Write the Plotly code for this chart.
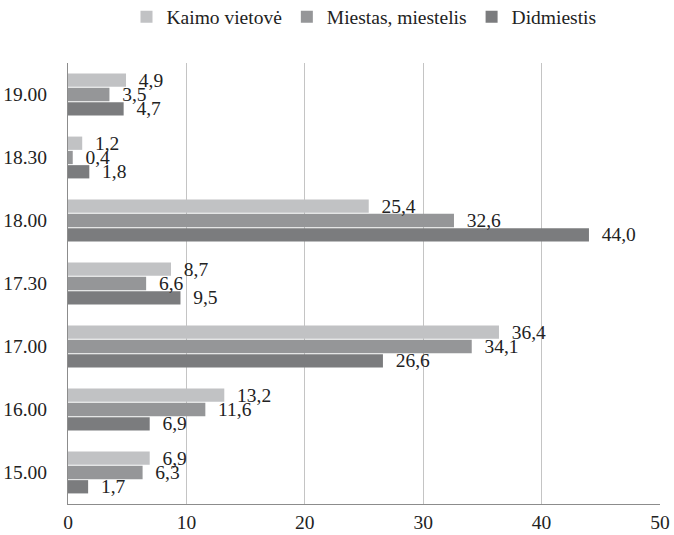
import plotly.graph_objects as go

categories = ["15.00", "16.00", "17.00", "17.30", "18.00", "18.30", "19.00"]
kaimo = [6.9, 13.2, 36.4, 8.7, 25.4, 1.2, 4.9]
miestas = [6.3, 11.6, 34.1, 6.6, 32.6, 0.4, 3.5]
didmiestis = [1.7, 6.9, 26.6, 9.5, 44.0, 1.8, 4.7]
x_ticks = [0, 10, 20, 30, 40, 50]

FONT = "Liberation Serif, Times New Roman, serif"
FS = 19.5

def fmt(v):
    return "  " + f"{v:.1f}".replace(".", ",")

series = [
    ("Didmiestis", didmiestis, "#7b7c7e"),
    ("Miestas, miestelis", miestas, "#959698"),
    ("Kaimo vietovė", kaimo, "#c1c2c4"),
]

fig = go.Figure()
for name, vals, color in series:
    fig.add_trace(go.Bar(
        y=categories, x=vals, name=name, orientation="h",
        marker=dict(color=color, line=dict(width=0)),
        text=[fmt(v) for v in vals], textposition="outside",
        constraintext="none",
        textfont=dict(family=FONT, size=FS, color="#222"),
        cliponaxis=False,
    ))

fig.update_layout(
    width=674, height=535,
    margin=dict(l=68, r=14, t=63, b=31, autoexpand=False),
    paper_bgcolor="white", plot_bgcolor="white",
    barmode="group", bargap=0.32, bargroupgap=0.07,
    font=dict(family=FONT, size=FS, color="#222"),
    legend=dict(orientation="h", x=0.5, xanchor="center", y=1.104, yanchor="middle",
                traceorder="reversed", font=dict(family=FONT, size=FS, color="#222"),
                itemwidth=30),
    xaxis=dict(range=[0, 50], tickvals=x_ticks, showgrid=True, gridcolor="#c4c4c4",
               gridwidth=1, showline=True, linecolor="#8c8c8c", zeroline=False,
               ticks="", ticklabelstandoff=1, tickfont=dict(family=FONT, size=FS),
               automargin=False),
    yaxis=dict(type="category", categoryorder="array", categoryarray=categories,
               showline=True, linecolor="#8c8c8c", showgrid=False, ticks="",
               ticklabelstandoff=16, tickfont=dict(family=FONT, size=FS),
               automargin=False),
)
fig.write_html("out.html", config={"displayModeBar": False},
               post_script="document.body.style.margin='0';")
